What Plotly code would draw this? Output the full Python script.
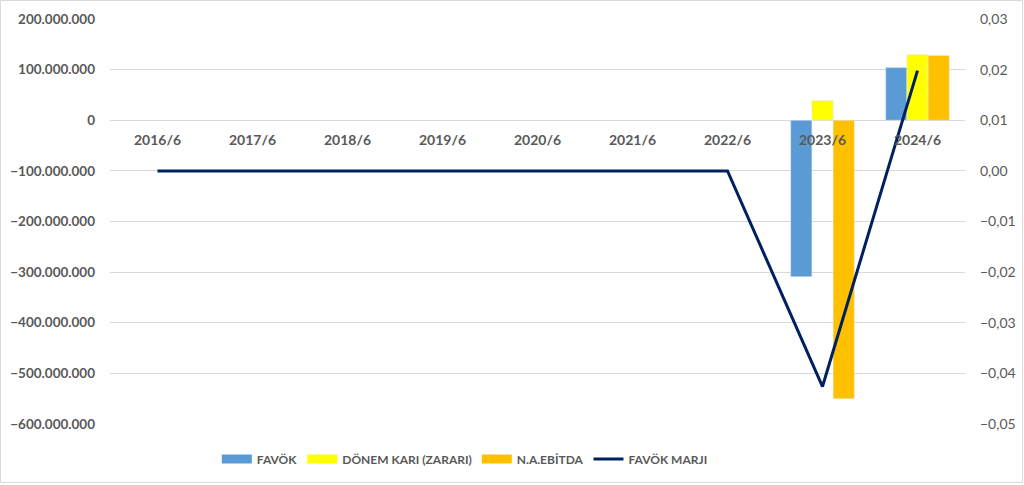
import plotly.graph_objects as go

# ---------------------------------------------------------------------------
# Data
# ---------------------------------------------------------------------------
periods = ["2016/6", "2017/6", "2018/6", "2019/6", "2020/6",
           "2021/6", "2022/6", "2023/6", "2024/6"]
favok = [None, None, None, None, None, None, None, -309_000_000, 104_000_000]
donem_kari = [None, None, None, None, None, None, None, 39_000_000, 130_000_000]
na_ebitda = [None, None, None, None, None, None, None, -550_000_000, 128_000_000]
favok_marji = [0, 0, 0, 0, 0, 0, 0, -0.0426, 0.0198]

left_ticks = list(range(-600_000_000, 200_000_001, 100_000_000))
right_ticks = [-0.05, -0.04, -0.03, -0.02, -0.01, 0.0, 0.01, 0.02, 0.03]

FONT = "Lato"
GREY = "#595959"
BAR_COLORS = ["#5B9BD5", "#FFFF00", "#FFC000"]
LINE_COLOR = "#002060"

fig = go.Figure()
bar_series = [("FAVÖK", favok), ("DÖNEM KARI (ZARARI)", donem_kari),
              ("N.A.EBİTDA", na_ebitda)]
for (name, vals), col in zip(bar_series, BAR_COLORS):
    fig.add_trace(go.Bar(x=periods, y=vals, name=name, marker_color=col,
                         showlegend=False))
fig.add_trace(go.Scatter(x=periods, y=favok_marji, name="FAVÖK MARJI", yaxis="y2",
                         mode="lines", line=dict(color=LINE_COLOR, width=3),
                         showlegend=False))

# legend entries drawn as wide strips, like the Excel legend keys
for (name, _), col in zip(bar_series, BAR_COLORS):
    fig.add_trace(go.Scatter(x=[None], y=[None], name=name, mode="lines",
                             line=dict(color=col, width=9)))
fig.add_trace(go.Scatter(x=[None], y=[None], name="FAVÖK MARJI", mode="lines",
                         line=dict(color=LINE_COLOR, width=3)))

# zero line of the left axis, as a fraction of the plot height
zero_pos = (0 - left_ticks[0]) / (left_ticks[-1] - left_ticks[0])

W, H = 1024, 485
ml, mr, mt, mb = 110, 59, 19, 60
pw, ph = W - ml - mr, H - mt - mb

fig.update_layout(
    width=W, height=H,
    margin=dict(l=ml, r=mr, t=mt, b=mb),
    paper_bgcolor="white", plot_bgcolor="white",
    separators=",.",
    barmode="group", bargap=0.33, bargroupgap=0,
    font=dict(family=FONT, color=GREY, size=13),
    xaxis=dict(type="category", anchor="free", position=zero_pos, automargin=False,
               showline=False, showgrid=False, ticks="", ticklabelstandoff=10,
               tickfont=dict(family=FONT, size=14, color=GREY, weight="bold")),
    yaxis=dict(range=[left_ticks[0], left_ticks[-1]], tickvals=left_ticks,
               tickformat=",.0f", showgrid=True, gridcolor="#D9D9D9", gridwidth=1,
               zeroline=False, showline=False, ticks="", ticklabelstandoff=14,
               automargin=False,
               tickfont=dict(family=FONT, size=13.5, color=GREY, weight="bold")),
    yaxis2=dict(range=[right_ticks[0], right_ticks[-1]], tickvals=right_ticks,
                tickformat=".2f", overlaying="y", side="right", showgrid=False,
                zeroline=False, showline=False, ticks="", ticklabelstandoff=14,
                automargin=False,
                tickfont=dict(family=FONT, size=14, color=GREY)),
    legend=dict(orientation="h", x=0.415, xanchor="center", y=-0.084, yanchor="middle",
                font=dict(family=FONT, size=12, color=GREY, weight="bold"),
                traceorder="normal", itemwidth=30, tracegroupgap=0),
    showlegend=True,
    shapes=[dict(type="rect", xref="paper", yref="paper",
                 x0=-(ml - 0.5) / pw, x1=(W - ml - 1.5) / pw,
                 y0=-(mb - 1.5) / ph, y1=(H - mb - 0.5) / ph,
                 line=dict(color="#D9D9D9", width=1), layer="below")],
)

# drop the default 8px page margin so the chart fills the window exactly
fig.write_html("out.html", config={"displayModeBar": False},
               post_script="document.body.style.margin = '0';")
